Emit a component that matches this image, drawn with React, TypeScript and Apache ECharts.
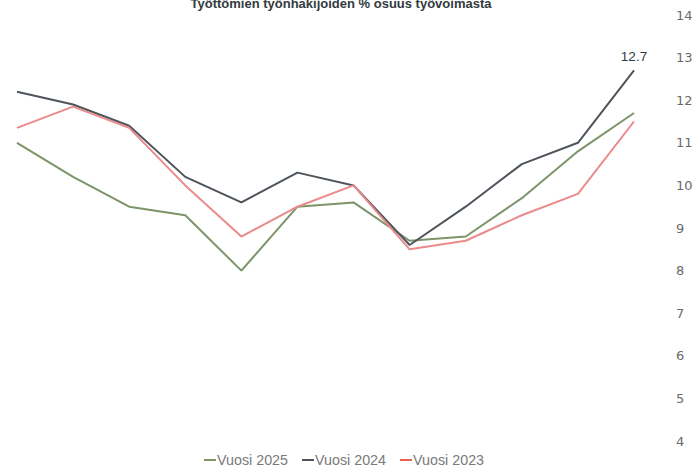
import React, { useEffect, useRef } from "react";
import * as echarts from "echarts";

const months = ["1", "2", "3", "4", "5", "6", "7", "8", "9", "10", "11", "12"];
const vuosi2025 = [11.0, 10.2, 9.5, 9.3, 8.0, 9.5, 9.6, 8.7, 8.8, 9.7, 10.8, 11.7];
const vuosi2024 = [12.2, 11.9, 11.4, 10.2, 9.6, 10.3, 10.0, 8.6, 9.5, 10.5, 11.0, 12.7];
const vuosi2023 = [11.35, 11.85, 11.35, 10.0, 8.8, 9.5, 10.0, 8.5, 8.7, 9.3, 9.8, 11.5];
const titleText = "Työttömien työnhakijoiden % osuus työvoimasta";

export default function App() {
  const ref = useRef<HTMLDivElement>(null);
  useEffect(() => {
    const chart = echarts.init(ref.current!, null, { renderer: "svg" });
    const last = vuosi2024.length - 1;
    chart.setOption({
      animation: false,
      backgroundColor: "#ffffff",
      textStyle: { fontFamily: "Liberation Sans, Arial, sans-serif" },
      title: {
        text: titleText,
        left: 336,
        textAlign: "center",
        top: -8,
        textStyle: { fontSize: 13, fontWeight: "bold", color: "#333a40" },
      },
      grid: { left: 17, right: 62, top: 15, bottom: 32, containLabel: false },
      legend: {
        bottom: 1,
        left: 199,
        icon: "rect",
        itemWidth: 12,
        itemHeight: 2,
        itemGap: 14,
        textStyle: { fontSize: 14.3, color: "#7a7a7a", padding: [0, 0, 0, -4] },
        data: ["Vuosi 2025", "Vuosi 2024", "Vuosi 2023"],
      },
      xAxis: {
        type: "category",
        data: months,
        boundaryGap: false,
        axisLine: { show: false },
        axisTick: { show: false },
        axisLabel: { show: false },
        splitLine: { show: false },
      },
      yAxis: {
        type: "value",
        position: "right",
        min: 4,
        max: 14,
        interval: 1,
        axisLine: { show: false },
        axisTick: { show: false },
        splitLine: { show: false },
        axisLabel: {
          margin: 42,
          align: "left",
          fontSize: 13,
          color: "#6a6a6a",
          fontFamily: "DejaVu Sans",
        },
      },
      series: [
        {
          name: "Vuosi 2025",
          type: "line",
          data: vuosi2025,
          symbol: "none",
          lineStyle: { width: 2, color: "#7c9468" },
          itemStyle: { color: "#7c9468" },
        },
        {
          name: "Vuosi 2024",
          type: "line",
          data: vuosi2024.map((v, i) =>
            i === last
              ? {
                  value: v,
                  label: {
                    show: true,
                    position: "top",
                    distance: 7,
                    fontSize: 13.5,
                    color: "#2f3a45",
                    formatter: "{c}",
                  },
                }
              : v
          ),
          symbol: "circle",
          symbolSize: 0,
          showSymbol: true,
          lineStyle: { width: 2, color: "#4e545c" },
          itemStyle: { color: "#4e545c" },
        },
        {
          name: "Vuosi 2023",
          type: "line",
          data: vuosi2023,
          symbol: "none",
          lineStyle: { width: 2, color: "#ea8a8a" },
          itemStyle: { color: "#e8604f" },
        },
      ],
    });
    return () => chart.dispose();
  }, []);
  return <div ref={ref} style={{ width: 696, height: 473, position: "absolute", left: 0, top: 0 }} />;
}
